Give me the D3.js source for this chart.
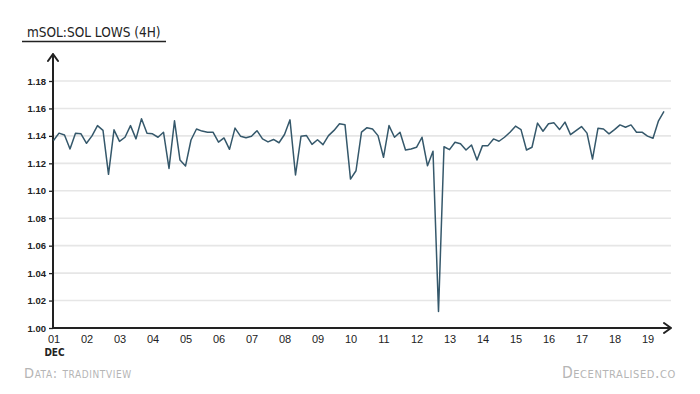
<!DOCTYPE html>
<html>
<head>
<meta charset="utf-8">
<script src="https://cdn.jsdelivr.net/npm/d3@7"></script>
<style>
  body { margin: 0; background: #fff; }
  svg { display: block; font-family: "DejaVu Sans Condensed", "DejaVu Sans", sans-serif; }
</style>
</head>
<body>
<div class="container"></div>
<script>
// mSOL:SOL 4H lows, 01 Dec -> 19 Dec (6 candles per day)
const lows = [
  1.1366, 1.1420, 1.1407, 1.1305, 1.1420, 1.1415, 1.1346, 1.1400, 1.1475, 1.1440,
  1.1120, 1.1444, 1.1360, 1.1390, 1.1475, 1.1378, 1.1525, 1.1420, 1.1415, 1.1390,
  1.1427, 1.1163, 1.1510, 1.1224, 1.1180, 1.1370, 1.1450, 1.1435, 1.1427, 1.1427,
  1.1354, 1.1385, 1.1302, 1.1457, 1.1398, 1.1387, 1.1398, 1.1438, 1.1378, 1.1356,
  1.1374, 1.1350, 1.1410, 1.1517, 1.1115, 1.1397, 1.1402, 1.1338, 1.1372, 1.1336,
  1.1402, 1.1440, 1.1488, 1.1482, 1.1085, 1.1146, 1.1427, 1.1460, 1.1450, 1.1402,
  1.1244, 1.1475, 1.1390, 1.1427, 1.1297, 1.1305, 1.1317, 1.1390, 1.1182, 1.1288,
  1.0120, 1.1321, 1.1300, 1.1354, 1.1343, 1.1297, 1.1334, 1.1224, 1.1329, 1.1329,
  1.1378, 1.1361, 1.1390, 1.1427, 1.1471, 1.1446, 1.1297, 1.1317, 1.1493, 1.1434,
  1.1488, 1.1495, 1.1446, 1.1500, 1.1409, 1.1439, 1.1468, 1.1420, 1.1231, 1.1456,
  1.1450, 1.1415, 1.1446, 1.1480, 1.1463, 1.1480, 1.1427, 1.1427, 1.1398, 1.1383,
  1.1510, 1.1578
];
const dayLabels = ["01","02","03","04","05","06","07","08","09","10",
                   "11","12","13","14","15","16","17","18","19"];
const yTicks = [1.00, 1.02, 1.04, 1.06, 1.08, 1.10, 1.12, 1.14, 1.16, 1.18];

const w = 700;
const h = 394;

const svg = d3.select(".container")
  .append("svg")
  .attr("width", w)
  .attr("height", h);

/* scales: x by candle index, y by price ratio */
const xScale = d3.scaleLinear()
  .domain([0, lows.length - 1])
  .range([53.5, 664]);
const yScale = d3.scaleLinear()
  .domain([1.00, 1.18])
  .range([328, 81]);

const axisX = 53;
const axisY = yScale(1.00);

// gridlines
svg.append("g")
  .selectAll("line")
  .data(yTicks.slice(1))
  .enter()
  .append("line")
  .attr("x1", axisX)
  .attr("x2", 671)
  .attr("y1", d => yScale(d))
  .attr("y2", d => yScale(d))
  .attr("stroke", "#e6e6e6")
  .attr("stroke-width", 1.6);

// y axis with ticks
const yAxis = d3.axisLeft(yScale)
  .tickValues(yTicks)
  .tickSize(4)
  .tickPadding(3)
  .tickFormat(d3.format(".2f"));
const gy = svg.append("g")
  .attr("transform", "translate(" + axisX + ",0)")
  .call(yAxis);
gy.select(".domain").remove();
gy.selectAll(".tick line").attr("stroke", "#222").attr("stroke-width", 1.3);
gy.selectAll(".tick text")
  .attr("fill", "#222")
  .style("font-size", "9.5px")
  .style("font-weight", "bold");

// x axis labels at day starts
const xAxis = d3.axisBottom(xScale)
  .tickValues(dayLabels.map((d, i) => i * 6))
  .tickSize(0)
  .tickPadding(7)
  .tickFormat((d, i) => dayLabels[i]);
const gx = svg.append("g")
  .attr("transform", "translate(0," + axisY + ")")
  .call(xAxis);
gx.select(".domain").remove();
gx.selectAll(".tick text")
  .attr("fill", "#222")
  .style("font-size", "11px");

svg.append("text")
  .attr("x", xScale(0) + 1)
  .attr("y", axisY + 28)
  .attr("text-anchor", "middle")
  .attr("fill", "#222")
  .style("font-size", "10px")
  .style("font-weight", "bold")
  .text("DEC");

// axis lines with arrow heads
const axisPath = d3.path();
axisPath.moveTo(axisX, axisY);
axisPath.lineTo(axisX, 54);
axisPath.moveTo(axisX - 5, 61);
axisPath.lineTo(axisX, 54);
axisPath.lineTo(axisX + 5, 61);
axisPath.moveTo(axisX, axisY);
axisPath.lineTo(671, axisY);
axisPath.moveTo(664, axisY - 5);
axisPath.lineTo(671, axisY);
axisPath.lineTo(664, axisY + 5);
svg.append("path")
  .attr("d", axisPath.toString())
  .attr("fill", "none")
  .attr("stroke", "#222")
  .attr("stroke-width", 2)
  .attr("stroke-linecap", "round")
  .attr("stroke-linejoin", "round");

// the series
const line = d3.line()
  .x((d, i) => xScale(i))
  .y(d => yScale(d));
svg.append("path")
  .datum(lows)
  .attr("d", line)
  .attr("fill", "none")
  .attr("stroke", "#35586b")
  .attr("stroke-width", 1.5)
  .attr("stroke-linejoin", "round");

// title
svg.append("text")
  .attr("x", 27)
  .attr("y", 37)
  .attr("fill", "#222")
  .style("font-size", "13.5px")
  .text("mSOL:SOL LOWS (4H)");
svg.append("line")
  .attr("x1", 22)
  .attr("x2", 166)
  .attr("y1", 41.5)
  .attr("y2", 41.5)
  .attr("stroke", "#222")
  .attr("stroke-width", 1.5);

// footer
svg.append("text")
  .attr("x", 24)
  .attr("y", 378)
  .attr("fill", "#b5b5b5")
  .style("font-size", "14.5px")
  .style("letter-spacing", "0.6px")
  .style("font-variant", "small-caps")
  .text("Data: tradintview");
svg.append("text")
  .attr("x", 676)
  .attr("y", 378)
  .attr("text-anchor", "end")
  .attr("fill", "#b5b5b5")
  .style("font-size", "15.5px")
  .style("letter-spacing", "0.6px")
  .style("font-variant", "small-caps")
  .text("Decentralised.co");
</script>
</body>
</html>
